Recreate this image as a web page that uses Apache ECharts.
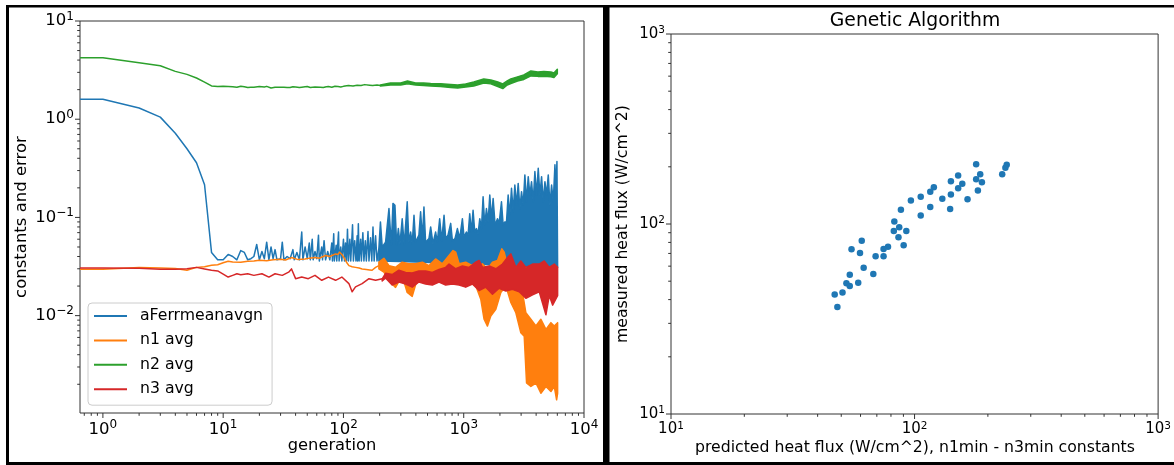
<!DOCTYPE html>
<html>
<head>
<meta charset="utf-8">
<script src="https://cdn.jsdelivr.net/npm/echarts@6/dist/echarts.min.js"></script>
<style>
  html, body { margin: 0; padding: 0; background: #fff; }
  #chart { width: 1174px; height: 465px; }
</style>
</head>
<body>
<div id="chart"></div>
<script>
// ---------- data: GA run history (generation, value) ----------
// sparse early part of each trace
const aFerrLine = [
  [1,1.6],[2,1.3],[3,1.05],[4,0.72],[5,0.5],[6,0.36],[7,0.215],[8,0.044],[9,0.037],[10,0.037],
  [11,0.042],[12,0.04],[13,0.037],[14,0.046],[15,0.044],[16,0.037],[17,0.038],[18,0.04],[19,0.053],[20,0.037],
  [21,0.045],[22,0.038],[23,0.056],[24,0.037],[25,0.05],[26,0.038],[27,0.047],[28,0.037],[30,0.038],[31,0.056],
  [32,0.037],[34,0.04],[36,0.038],[38,0.047],[39,0.037],[41,0.044],[43,0.037],[45,0.071],[46,0.037],[48,0.05],
  [50,0.038],[52,0.055],[53,0.037],[55,0.06],[56,0.037],[58,0.045],[60,0.038],[62,0.066],[63,0.036],[66,0.05],
  [67,0.037],[69,0.058],[71,0.037],[74,0.045],[77,0.037],[80,0.055],[81,0.036],[83,0.068],[84,0.036],[87,0.052],
  [88,0.036],[91,0.071],[92,0.036],[95,0.05],[97,0.036],[100,0.06],[102,0.036],[104,0.055],[106,0.036],[108,0.076],
  [110,0.036],[113,0.06],[115,0.036],[119,0.084],[121,0.036],[124,0.058],[127,0.036],[130,0.065],[131,0.036],[133,0.086],
  [135,0.036],[139,0.06],[141,0.036],[145,0.07],[148,0.036],[152,0.058],[155,0.036],[160,0.072],[163,0.036],[168,0.062],
  [172,0.036],[176,0.08],[180,0.036],[185,0.065],[190,0.036],[197,0.048]
];
const n1Line = [
  [1,0.0297],[2,0.031],[3,0.0305],[4,0.0302],[5,0.029],[6,0.031],[7,0.0315],[8,0.0325],[9,0.033],[10,0.0345],
  [11,0.0358],[12,0.0352],[14,0.035],[16,0.0358],[18,0.036],[20,0.0366],[23,0.0362],[26,0.037],[30,0.0375],[33,0.0368],
  [37,0.039],[42,0.0372],[48,0.0378],[52,0.0385],[58,0.039],[63,0.0385],[71,0.041],[77,0.04],[86,0.0425],[90,0.042],
  [93,0.0443],[97,0.042],[101,0.039],[106,0.035],[111,0.0323],[118,0.0315],[126,0.031],[135,0.0305],[143,0.0299],[155,0.0295],
  [165,0.0292],[173,0.029],[185,0.031],[197,0.0323]
];
const n2Line = [
  [1,4.22],[2,3.75],[3,3.5],[4,3.07],[5,2.86],[6,2.63],[7,2.39],[8,2.18],[9,2.15],[10,2.16],
  [11,2.15],[12,2.14],[13,2.12],[14,2.17],[15,2.14],[16,2.1],[17,2.12],[18,2.12],[20,2.15],[22,2.13],
  [23,2.16],[25,2.08],[27,2.12],[28,2.15],[30,2.12],[32,2.12],[34,2.1],[36,2.1],[38,2.14],[40,2.13],
  [43,2.1],[45,2.12],[48,2.14],[50,2.15],[53,2.1],[55,2.11],[58,2.13],[60,2.14],[64,2.12],[68,2.1],
  [72,2.14],[75,2.15],[80,2.12],[85,2.17],[90,2.15],[95,2.13],[100,2.16],[110,2.2],[120,2.18],[130,2.22],
  [140,2.2],[150,2.25],[165,2.22],[175,2.2],[190,2.23],[203,2.2]
];
const n3Line = [
  [1,0.0306],[2,0.0303],[3,0.0296],[4,0.0297],[5,0.0301],[6,0.031],[7,0.0299],[8,0.029],[9,0.0285],[10,0.0265],
  [11,0.0247],[12,0.0257],[13,0.0267],[14,0.0261],[16,0.0267],[18,0.0257],[21,0.0267],[24,0.0247],[27,0.0267],[31,0.0257],
  [35,0.0277],[37,0.0299],[40,0.0238],[45,0.0247],[51,0.0238],[58,0.0257],[66,0.0229],[75,0.0247],[86,0.0229],[97,0.0247],
  [111,0.0212],[118,0.0175],[126,0.0196],[143,0.0212],[163,0.0238],[185,0.0229],[210,0.0237]
];

// dense later part: upper and lower extent of each oscillating trace
const aFerrHigh = [
  [197,0.048],[203,0.09],[210,0.05],[224,0.056],[239,0.123],[250,0.052],[258,0.139],[268,0.133],[277,0.052],[286,0.077],
  [295,0.054],[308,0.097],[320,0.052],[339,0.144],[350,0.056],[362,0.071],[373,0.054],[386,0.105],[398,0.056],[424,0.066],
  [438,0.114],[453,0.061],[467,0.128],[482,0.056],[514,0.061],[531,0.08],[555,0.054],[584,0.071],[603,0.056],[631,0.097],
  [656,0.058],[686,0.105],[708,0.061],[740,0.066],[779,0.087],[805,0.058],[847,0.061],[886,0.077],[926,0.061],[975,0.097],
  [1006,0.063],[1052,0.071],[1087,0.066],[1122,0.109],[1158,0.071],[1196,0.118],[1235,0.071],[1275,0.077],[1316,0.068],[1359,0.097],
  [1404,0.077],[1449,0.162],[1496,0.083],[1545,0.123],[1595,0.09],[1647,0.169],[1701,0.097],[1756,0.156],[1824,0.083],[1908,0.097],
  [1970,0.087],[2060,0.144],[2127,0.083],[2196,0.09],[2268,0.09],[2341,0.169],[2417,0.105],[2496,0.198],[2577,0.114],[2661,0.214],
  [2748,0.133],[2837,0.222],[2929,0.123],[3025,0.183],[3123,0.133],[3224,0.271],[3329,0.144],[3438,0.26],[3548,0.169],[3664,0.231],
  [3783,0.144],[3906,0.293],[4033,0.169],[4164,0.317],[4299,0.169],[4439,0.26],[4583,0.144],[4732,0.231],[4886,0.169],[5045,0.271],
  [5209,0.133],[5378,0.214],[5553,0.144],[5733,0.343],[5845,0.183],[5957,0.371],[6034,0.032]
];
const aFerrLow = [[197,0.036],[300,0.0355],[600,0.0345],[1200,0.0335],[3000,0.032],[6034,0.031]];

const n1High = [
  [197,0.035],[217,0.0384],[239,0.0323],[271,0.0311],[308,0.035],[350,0.0337],[398,0.0337],[453,0.035],[514,0.0323],[584,0.0378],
  [664,0.0337],[755,0.0409],[815,0.046],[858,0.0443],[915,0.0337],[1039,0.035],[1181,0.0323],[1342,0.0323],[1431,0.0337],[1575,0.0299],
  [1734,0.035],[1908,0.0364],[2074,0.0479],[2169,0.0443],[2312,0.0323],[2545,0.0287],[2801,0.0236],[3083,0.0172],[3286,0.0107],[3617,0.00918],
  [3981,0.00783],[4382,0.00918],[4824,0.00724],[5309,0.00848],[5659,0.00783],[6034,0.00848]
];
const n1Low = [
  [197,0.0299],[217,0.0277],[239,0.0227],[271,0.0194],[308,0.0255],[339,0.0172],[373,0.0157],[411,0.0236],[453,0.0245],[514,0.0236],
  [584,0.0227],[664,0.0236],[755,0.0255],[858,0.0277],[975,0.0236],[1108,0.0218],[1259,0.0201],[1386,0.0147],[1477,0.00918],[1575,0.00783],
  [1679,0.00992],[1848,0.0116],[2034,0.0172],[2239,0.0201],[2465,0.0136],[2713,0.0107],[2985,0.00669],[3184,0.00619],[3329,0.00206],[3617,0.0019],
  [3981,0.00206],[4382,0.00162],[4824,0.0019],[5309,0.00169],[5659,0.0019],[5919,0.00139],[6034,0.00162]
];

const n2High = [
  [203,2.23],[246,2.34],[299,2.34],[341,2.45],[398,2.34],[464,2.34],[531,2.31],[643,2.29],[779,2.26],[891,2.23],
  [1040,2.29],[1212,2.39],[1468,2.57],[1679,2.51],[1920,2.39],[2113,2.29],[2300,2.45],[2464,2.57],[2800,2.7],[3162,2.83],
  [3617,3.1],[4137,3.03],[4642,3.06],[5309,3.03],[5623,2.96],[6000,3.22]
];
const n2Low = [
  [203,2.18],[246,2.23],[299,2.23],[341,2.29],[398,2.23],[464,2.2],[531,2.18],[643,2.15],[779,2.1],[891,2.08],
  [1040,2.13],[1212,2.18],[1468,2.34],[1679,2.29],[1920,2.15],[2113,2.05],[2300,2.23],[2464,2.31],[2800,2.45],[3162,2.54],
  [3617,2.76],[4137,2.73],[4642,2.73],[5309,2.7],[5623,2.66],[6000,2.9]
];

const n3High = [
  [210,0.0237],[224,0.027],[254,0.0262],[289,0.029],[329,0.0275],[373,0.0272],[424,0.0285],[482,0.0285],[548,0.0275],[623,0.0295],
  [708,0.031],[755,0.0335],[858,0.03],[975,0.032],[1108,0.031],[1259,0.035],[1342,0.0365],[1431,0.031],[1626,0.032],[1848,0.03],
  [2100,0.0335],[2312,0.039],[2465,0.0425],[2713,0.031],[2985,0.036],[3286,0.031],[3735,0.0335],[4245,0.0335],[4671,0.036],[5142,0.031],
  [5659,0.0335],[6034,0.031]
];
const n3Low = [
  [210,0.0225],[224,0.0242],[254,0.0205],[289,0.022],[329,0.021],[373,0.0195],[424,0.022],[482,0.021],[548,0.0205],[623,0.022],
  [708,0.0205],[805,0.021],[915,0.0205],[1039,0.0195],[1181,0.021],[1342,0.018],[1525,0.0195],[1734,0.0165],[1970,0.019],[2239,0.0178],
  [2545,0.0185],[2892,0.0175],[3286,0.015],[3735,0.0163],[4245,0.0175],[4824,0.0102],[5142,0.016],[5483,0.0128],[6034,0.016]
];

// predicted vs. measured heat flux (W/cm^2)
const predictedFlux = [179,239,236,229,186,151,141,179,189,157,120,116,151,182,141,130,106,96.6,165,87.9,
  116,140,106,82.6,86.5,82.2,92.5,85.9,90.2,77.8,74.6,60.7,55.1,59.7,69.2,74.6,61.8,54.2,67.7,52.5,
  54.2,58.7,50.6,47,48.2];
const measuredFlux = [206,205,198,183,183,180,168,172,166,163,156,148,154,150,143,136,139,133,135,119,
  123,120,111,103,96,91.8,91.8,85.1,77.4,76,73.8,81.7,73.6,70.3,67.6,67.6,58.9,54.1,54.6,48.7,
  47.2,49.1,43.6,42.5,36.6];

const legendNames = ['aFerrmeanavgn', 'n1 avg', 'n2 avg', 'n3 avg'];

// ---------- axes ranges ----------
const GEN_RANGE = [0.645, 10000];
const ERR_RANGE = [0.00102, 10];
const FLUX_RANGE = [10, 1000];

const FONT = 'DejaVu Sans';
const COLORS = { blue: '#1f77b4', orange: '#ff7f0e', green: '#2ca02c', red: '#d62728' };
const SPINE = '#333';

// generation 0 sits at the left edge of a log axis
function fromEdge(pts) { return [[GEN_RANGE[0], pts[0][1]]].concat(pts); }

function lineSeries(name, color, pts) {
  return {
    type: 'line', name: name, xAxisIndex: 0, yAxisIndex: 0,
    data: fromEdge(pts), symbol: 'none', clip: true,
    lineStyle: { color: color, width: 1.5, join: 'round' },
    itemStyle: { color: color }
  };
}

// dense stretch of a trace drawn as the region between its upper and lower extent
function bandSeries(color, hi, lo) {
  return {
    type: 'custom', xAxisIndex: 0, yAxisIndex: 0, silent: true, clip: true,
    data: [hi[0]], encode: { x: 0, y: 1 },
    renderItem: function (params, api) {
      const pts = hi.map(p => api.coord(p)).concat(lo.slice().reverse().map(p => api.coord(p)));
      return {
        type: 'polygon', shape: { points: pts },
        style: { fill: color, stroke: color, lineWidth: 1.5, lineJoin: 'round' }
      };
    }
  };
}

// decade and sub-decade tick positions of a log axis
function logTicks(range) {
  const out = [];
  for (let d = Math.floor(Math.log10(range[0])); d <= Math.ceil(Math.log10(range[1])); d++) {
    for (let k = 1; k <= 9; k++) {
      const v = k * Math.pow(10, d);
      if (v >= range[0] * 0.9999 && v <= range[1] * 1.0001) out.push([v, k === 1]);
    }
  }
  return out;
}

function tickSeries(axisIdx, xr, yr) {
  const xt = logTicks(xr), yt = logTicks(yr);
  return {
    type: 'custom', xAxisIndex: axisIdx, yAxisIndex: axisIdx, silent: true, clip: false, z: 5,
    data: [[xr[1], yr[1]]], encode: { x: 0, y: 1 },
    renderItem: function (params, api) {
      const kids = [];
      xt.forEach(([v, major]) => {
        const p = api.coord([v, yr[0]]);
        const L = major ? 5 : 2.8;
        kids.push({ type: 'line', shape: { x1: p[0], y1: p[1], x2: p[0], y2: p[1] + L },
          style: { stroke: SPINE, lineWidth: 1 } });
      });
      yt.forEach(([v, major]) => {
        const p = api.coord([xr[0], v]);
        const L = major ? 5 : 2.8;
        kids.push({ type: 'line', shape: { x1: p[0], y1: p[1], x2: p[0] - L, y2: p[1] },
          style: { stroke: SPINE, lineWidth: 1 } });
      });
      return { type: 'group', children: kids };
    }
  };
}

function powLabel(v) {
  const lg = Math.log10(v);
  const e = Math.round(lg);
  if (Math.abs(lg - e) > 1e-6) return '';
  return '{b|10}{s|' + (e < 0 ? '\u2212' + (-e) : e) + '}';
}
function richFor(size, sup, raise) {
  return {
    b: { fontFamily: FONT, fontSize: size, color: '#000', lineHeight: size + 4 },
    s: { fontFamily: FONT, fontSize: sup, color: '#000', padding: [0, 0, raise, 0], lineHeight: size + 4 }
  };
}

function logAxis(gridIndex, range, size, sup, raise, margin) {
  return {
    type: 'log', logBase: 10, gridIndex: gridIndex, min: range[0], max: range[1],
    axisLine: { show: false }, axisTick: { show: false }, splitLine: { show: false },
    minorTick: { show: false },
    axisLabel: { formatter: powLabel, rich: richFor(size, sup, raise), margin: margin, hideOverlap: false }
  };
}

const chart = echarts.init(document.getElementById('chart'), null, { renderer: 'canvas' });

chart.setOption({
  animation: false,
  backgroundColor: '#fff',
  grid: [
    { left: 80, top: 21, width: 504, height: 392, show: true, borderColor: SPINE, borderWidth: 1, backgroundColor: 'transparent' },
    { left: 671, top: 34, width: 488, height: 380, show: true, borderColor: SPINE, borderWidth: 1, backgroundColor: 'transparent' }
  ],
  xAxis: [
    logAxis(0, GEN_RANGE, 16.5, 12, 9, 6),
    logAxis(1, FLUX_RANGE, 15, 10.5, 7, 6)
  ],
  yAxis: [
    logAxis(0, ERR_RANGE, 16.5, 12, 9, 6),
    logAxis(1, FLUX_RANGE, 15, 10.5, 7, 6)
  ],
  legend: {
    data: legendNames, orient: 'vertical', left: 88, top: 303,
    icon: 'rect', itemWidth: 33, itemHeight: 2, itemGap: 8.4,
    padding: [5, 9, 8, 6],
    borderColor: '#ccc', borderWidth: 1, borderRadius: 4,
    backgroundColor: 'rgba(255,255,255,0.8)', selectedMode: false,
    textStyle: { fontFamily: FONT, fontSize: 15.7, lineHeight: 16, color: '#000', padding: [0, 0, 0, 8] }
  },
  series: [
    lineSeries('aFerrmeanavgn', COLORS.blue, aFerrLine),
    bandSeries(COLORS.blue, aFerrHigh, aFerrLow),
    lineSeries('n1 avg', COLORS.orange, n1Line),
    bandSeries(COLORS.orange, n1High, n1Low),
    lineSeries('n2 avg', COLORS.green, n2Line),
    bandSeries(COLORS.green, n2High, n2Low),
    lineSeries('n3 avg', COLORS.red, n3Line),
    bandSeries(COLORS.red, n3High, n3Low),
    tickSeries(0, GEN_RANGE, ERR_RANGE),
    {
      type: 'scatter', xAxisIndex: 1, yAxisIndex: 1,
      data: predictedFlux.map((p, i) => [p, measuredFlux[i]]),
      symbolSize: 6.5, itemStyle: { color: COLORS.blue, opacity: 1 }
    },
    tickSeries(1, FLUX_RANGE, FLUX_RANGE)
  ],
  graphic: [
    // panel frames
    { type: 'rect', shape: { x: 6, y: 5, width: 1168, height: 2.5 }, style: { fill: '#000' }, silent: true },
    { type: 'rect', shape: { x: 6, y: 462, width: 1168, height: 3 }, style: { fill: '#000' }, silent: true },
    { type: 'rect', shape: { x: 6, y: 5, width: 3, height: 460 }, style: { fill: '#000' }, silent: true },
    { type: 'rect', shape: { x: 603, y: 5, width: 6.5, height: 460 }, style: { fill: '#000' }, silent: true },
    // axis titles
    { type: 'text', x: 332, y: 446, silent: true,
      style: { text: 'generation', fontFamily: FONT, fontSize: 16.3, fill: '#000', align: 'center', verticalAlign: 'middle' } },
    { type: 'text', x: 22, y: 217, rotation: Math.PI / 2, silent: true,
      style: { text: 'constants and error', fontFamily: FONT, fontSize: 16.5, fill: '#000', align: 'center', verticalAlign: 'middle' } },
    { type: 'text', x: 915, y: 21, silent: true,
      style: { text: 'Genetic Algorithm', fontFamily: FONT, fontSize: 18.8, fill: '#000', align: 'center', verticalAlign: 'middle' } },
    { type: 'text', x: 915, y: 448, silent: true,
      style: { text: 'predicted heat flux (W/cm^2), n1min - n3min constants', fontFamily: FONT, fontSize: 15.7, fill: '#000', align: 'center', verticalAlign: 'middle' } },
    { type: 'text', x: 623, y: 224, rotation: Math.PI / 2, silent: true,
      style: { text: 'measured heat flux (W/cm^2)', fontFamily: FONT, fontSize: 15.7, fill: '#000', align: 'center', verticalAlign: 'middle' } }
  ]
});
</script>
</body>
</html>
